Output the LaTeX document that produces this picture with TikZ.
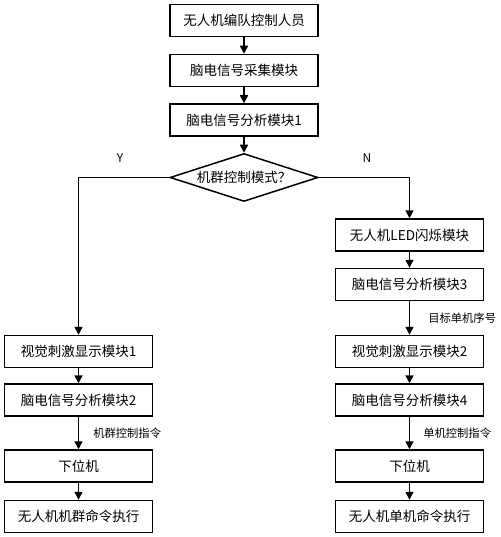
\documentclass[tikz,border=0pt]{standalone}
\usepackage{fontspec}
\setmainfont{Noto Sans CJK SC}
\usetikzlibrary{positioning, shapes.geometric, arrows.meta}

\begin{document}
\begin{tikzpicture}[x=1pt, y=1pt, line width=1.5pt,
	box/.style={draw, rectangle, minimum width=148pt, minimum height=32pt, inner sep=0pt, font=\fontsize{13.5}{15}\selectfont},
	arr/.style={-{Triangle[length=8pt,width=8pt]}},
	note/.style={font=\fontsize{11.3}{13}\selectfont, inner sep=0pt}]
	\useasboundingbox (0,0) rectangle (500,-537);
	% main column
	\node[box] (b1) at (244,-20.5) {无人机编队控制人员};
	\node[box] (b2) at (244,-70.5) {脑电信号采集模块};
	\node[box] (b3) at (244,-120) {脑电信号分析模块1};
	\node[draw, diamond, aspect=3, inner sep=0pt, minimum width=148pt, minimum height=48pt, font=\fontsize{13.5}{15}\selectfont] (dia) at (244,-177.5) {机群控制模式？};
	\node[font=\fontsize{12}{14}\selectfont] (yes) at (120,-158) {Y};
	\node[font=\fontsize{12}{14}\selectfont] (no) at (367,-158) {N};
	% left column
	\node[box] (l1) at (78.5,-351.5) {视觉刺激显示模块1};
	\node[box] (l2) at (78.5,-400) {脑电信号分析模块2};
	\node[box] (l3) at (78.5,-466) {下位机};
	\node[box] (l4) at (78.5,-516.5) {无人机机群命令执行};
	% right column
	\node[box] (r1) at (409.5,-235) {无人机LED闪烁模块};
	\node[box] (r2) at (409.5,-284.5) {脑电信号分析模块3};
	\node[box] (r3) at (409.5,-351.5) {视觉刺激显示模块2};
	\node[box] (r4) at (409.5,-400) {脑电信号分析模块4};
	\node[box] (r5) at (409.5,-466) {下位机};
	\node[box] (r6) at (409.5,-516.5) {无人机单机命令执行};
	% connectors
	\draw[arr] (b1) -- (b2);
	\draw[arr] (b2) -- (b3);
	\draw[arr] (b3) -- (dia);
	\draw[arr] (dia.west) -| (l1.north);
	\draw[arr] (dia.east) -| (r1.north);
	\draw[arr] (l1) -- (l2);
	\draw[arr] (l2) -- node[note, right=14pt] {机群控制指令} (l3);
	\draw[arr] (l3) -- (l4);
	\draw[arr] (r1) -- (r2);
	\draw[arr] (r2) -- node[note, right=18pt] {目标单机序号} (r3);
	\draw[arr] (r3) -- (r4);
	\draw[arr] (r4) -- node[note, right=13pt] {单机控制指令} (r5);
	\draw[arr] (r5) -- (r6);
\end{tikzpicture}
\end{document}
